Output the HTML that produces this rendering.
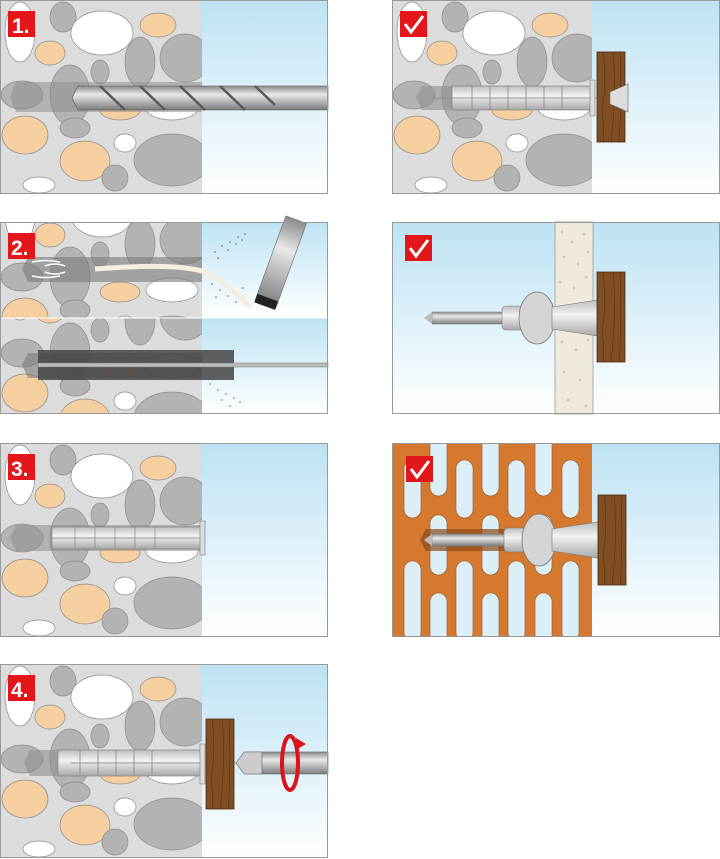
<!DOCTYPE html>
<html><head><meta charset="utf-8"><style>
html,body{margin:0;padding:0;background:#fff;}
svg{display:block}
</style></head><body>
<svg width="720" height="859" viewBox="0 0 720 859" xmlns="http://www.w3.org/2000/svg">
<defs>
<linearGradient id="sky" x1="0" y1="0" x2="0" y2="1">
<stop offset="0" stop-color="#bde2f3"/><stop offset="1" stop-color="#ffffff"/>
</linearGradient>
<linearGradient id="metal" x1="0" y1="0" x2="0" y2="1">
<stop offset="0" stop-color="#8a8a8a"/><stop offset="0.35" stop-color="#e8e8e8"/><stop offset="1" stop-color="#7c7c7c"/>
</linearGradient>
<linearGradient id="plug" x1="0" y1="0" x2="0" y2="1">
<stop offset="0" stop-color="#bdbdbd"/><stop offset="0.4" stop-color="#f2f2f2"/><stop offset="1" stop-color="#a8a8a8"/>
</linearGradient>
<clipPath id="r3clip"><rect x="0" y="0" width="328" height="194"/></clipPath>
<g id="stones" stroke="#8c8c8c" stroke-width="0.7">
<rect x="0" y="0" width="202" height="194" fill="#dcdcdc" stroke="none"/>
<ellipse cx="20" cy="32" rx="15" ry="30" fill="#fff"/>
<ellipse cx="63" cy="17" rx="13" ry="15" fill="#b3b3b3"/>
<ellipse cx="102" cy="33" rx="31" ry="22" fill="#fff"/>
<ellipse cx="158" cy="25" rx="18" ry="12" fill="#f5cfa0"/>
<ellipse cx="50" cy="53" rx="15" ry="12" fill="#f5cfa0"/>
<ellipse cx="140" cy="62" rx="15" ry="25" fill="#b3b3b3"/>
<ellipse cx="185" cy="58" rx="25" ry="24" fill="#b3b3b3"/>
<ellipse cx="100" cy="72" rx="9" ry="12" fill="#b3b3b3"/>
<ellipse cx="22" cy="95" rx="21" ry="14" fill="#b3b3b3"/>
<ellipse cx="70" cy="95" rx="20" ry="30" fill="#b3b3b3"/>
<ellipse cx="120" cy="110" rx="20" ry="10" fill="#f5cfa0"/>
<ellipse cx="172" cy="108" rx="26" ry="12" fill="#fff"/>
<ellipse cx="25" cy="135" rx="23" ry="19" fill="#f5cfa0"/>
<ellipse cx="75" cy="128" rx="15" ry="10" fill="#b3b3b3"/>
<ellipse cx="85" cy="161" rx="25" ry="20" fill="#f5cfa0"/>
<ellipse cx="125" cy="143" rx="11" ry="9" fill="#fff"/>
<ellipse cx="172" cy="160" rx="38" ry="26" fill="#b3b3b3"/>
<ellipse cx="115" cy="178" rx="13" ry="13" fill="#b3b3b3"/>
<ellipse cx="39" cy="185" rx="16" ry="8" fill="#fff"/>
</g>
<g id="wood">
<rect x="0" y="0" width="28" height="90" fill="#7f4e22" stroke="#4a2a10" stroke-width="0.8"/>
<path d="M6 0 Q10 30 5 60 Q8 80 6 90 M16 0 Q20 40 14 90 M23 0 Q25 50 22 90" stroke="#5a3412" stroke-width="0.6" fill="none"/>
</g>
<g id="badge"><rect x="0" y="0" width="27" height="26" fill="#e3161b"/></g>
<g id="check"><rect x="0" y="0" width="27" height="26" fill="#e3161b"/><path d="M5 13 L11 21 L23 5" stroke="#fff" stroke-width="3" fill="none"/></g>
</defs>

<!-- Panel 1 -->
<g transform="translate(0,0)">
<use href="#stones"/>
<rect x="202" y="0" width="126" height="194" fill="url(#sky)"/>
<polygon points="16,82 202,82 202,112 16,112 10,97" fill="#8e8e8e" opacity="0.55"/>
<polygon points="78,86 328,86 328,110 78,110 72,98" fill="url(#metal)" stroke="#555" stroke-width="0.6"/>
<path d="M100 86 L125 110 M140 86 L165 110 M180 86 L205 110 M220 86 L245 110 M255 86 L275 105" stroke="#5a5a5a" stroke-width="2.5" fill="none"/>
<use href="#badge" transform="translate(8,11)"/>
<text x="12" y="33" font-family="Liberation Sans,sans-serif" font-weight="bold" font-size="21" fill="#fff">1.</text>
<rect x="0.5" y="0.5" width="327" height="193" fill="none" stroke="#999"/>
</g>

<!-- Panel 2 -->
<g transform="translate(0,222)">
<svg x="0" y="0" width="202" height="96" viewBox="0 40 202 96"><use href="#stones"/></svg>
<svg x="0" y="96" width="202" height="96" viewBox="0 60 202 96"><use href="#stones"/></svg>
<rect x="202" y="0" width="126" height="96" fill="url(#sky)"/>
<rect x="202" y="96" width="126" height="96" fill="url(#sky)"/>
<line x1="0" y1="96" x2="328" y2="96" stroke="#fff" stroke-width="1"/>
<polygon points="28,35 202,35 202,60 28,60 22,47" fill="#7a7a7a" opacity="0.6"/>
<path d="M95 47 Q185 40 210 52 Q235 68 250 85" stroke="#f3eee0" stroke-width="5" fill="none"/>
<path d="M32 40 Q45 37 60 40 M32 54 Q45 57 60 54 M45 44 Q55 40 65 44 M45 50 Q55 54 65 50" stroke="#fff" stroke-width="1.5" fill="none"/>
<g transform="rotate(20 280 45)"><rect x="268" y="-5" width="22" height="90" fill="url(#metal)" stroke="#666" stroke-width="0.6"/><rect x="268" y="78" width="22" height="9" fill="#222"/></g>
<g fill="#777" opacity="0.7">
<circle cx="215" cy="30" r="1"/><circle cx="222" cy="24" r="1"/><circle cx="230" cy="20" r="1"/><circle cx="238" cy="15" r="1"/><circle cx="245" cy="12" r="1"/><circle cx="218" cy="36" r="1"/><circle cx="228" cy="28" r="1"/><circle cx="236" cy="22" r="1"/><circle cx="242" cy="18" r="1"/><circle cx="212" cy="62" r="1"/><circle cx="220" cy="68" r="1"/><circle cx="228" cy="74" r="1"/><circle cx="236" cy="80" r="1"/><circle cx="243" cy="66" r="1"/><circle cx="216" cy="75" r="1"/>
</g>
<polygon points="28,131 202,131 202,156 28,156 22,143" fill="#7a7a7a" opacity="0.6"/>
<rect x="38" y="128" width="196" height="13" fill="#444" opacity="0.85"/>
<rect x="38" y="145" width="196" height="13" fill="#444" opacity="0.85"/>
<rect x="38" y="141" width="290" height="4" fill="#bbb" stroke="#777" stroke-width="0.5"/>
<g fill="#888" opacity="0.7"><circle cx="210" cy="162" r="1"/><circle cx="218" cy="168" r="1"/><circle cx="226" cy="172" r="1"/><circle cx="234" cy="176" r="1"/><circle cx="240" cy="180" r="1"/><circle cx="222" cy="178" r="1"/><circle cx="230" cy="184" r="1"/></g>
<use href="#badge" transform="translate(8,11)"/>
<text x="11" y="33" font-family="Liberation Sans,sans-serif" font-weight="bold" font-size="21" fill="#fff">2.</text>
<rect x="0.5" y="0.5" width="327" height="191" fill="none" stroke="#999"/>
</g>

<!-- Panel 3 -->
<g transform="translate(0,443)">
<use href="#stones"/>
<rect x="202" y="0" width="126" height="194" fill="url(#sky)"/>
<polygon points="16,82 202,82 202,108 16,108 10,95" fill="#8e8e8e" opacity="0.55"/>
<rect x="52" y="84" width="150" height="22" fill="url(#plug)" stroke="#777" stroke-width="0.6"/>
<path d="M75 84 V106 M95 84 V106 M115 84 V106 M135 84 V106 M155 84 V106 M52 95 H200" stroke="#888" stroke-width="0.7"/>
<rect x="200" y="78" width="5" height="34" fill="#ddd" stroke="#777" stroke-width="0.6"/>
<use href="#badge" transform="translate(8,11)"/>
<text x="11" y="33" font-family="Liberation Sans,sans-serif" font-weight="bold" font-size="21" fill="#fff">3.</text>
<rect x="0.5" y="0.5" width="327" height="193" fill="none" stroke="#999"/>
</g>

<!-- Panel 4 -->
<g transform="translate(0,664)">
<use href="#stones"/>
<rect x="202" y="0" width="126" height="194" fill="url(#sky)"/>
<polygon points="30,86 202,86 202,112 30,112 24,99" fill="#8e8e8e" opacity="0.6"/>
<rect x="58" y="86" width="144" height="26" fill="url(#plug)" stroke="#777" stroke-width="0.6"/>
<path d="M80 86 V112 M98 86 V112 M116 86 V112 M134 86 V112 M152 86 V112 M70 99 H240" stroke="#888" stroke-width="0.8"/>
<rect x="200" y="80" width="5" height="40" fill="#ddd" stroke="#777" stroke-width="0.6"/>
<use href="#wood" transform="translate(206,55)"/>
<rect x="246" y="88" width="82" height="22" fill="url(#metal)" stroke="#666" stroke-width="0.6"/>
<polygon points="244,88 262,88 262,110 244,110 236,99" fill="#ccc" stroke="#666" stroke-width="0.6"/>
<ellipse cx="290" cy="99" rx="8" ry="27" fill="none" stroke="#d8141c" stroke-width="4"/>
<polygon points="296,74 306,80 296,86" fill="#d8141c"/>
<use href="#badge" transform="translate(8,11)"/>
<text x="11" y="33" font-family="Liberation Sans,sans-serif" font-weight="bold" font-size="21" fill="#fff">4.</text>
<rect x="0.5" y="0.5" width="327" height="193" fill="none" stroke="#999"/>
</g>

<!-- R1 -->
<g transform="translate(392,0)">
<use href="#stones"/>
<rect x="200" y="0" width="128" height="194" fill="url(#sky)"/>
<polygon points="30,86 200,86 200,110 30,110 24,98" fill="#8e8e8e" opacity="0.6"/>
<rect x="60" y="86" width="140" height="24" fill="url(#plug)" stroke="#777" stroke-width="0.6"/>
<path d="M80 86 V110 M98 86 V110 M116 86 V110 M134 86 V110 M152 86 V110 M170 86 V110 M40 98 H235" stroke="#888" stroke-width="0.8"/>
<rect x="198" y="80" width="5" height="36" fill="#ddd" stroke="#777" stroke-width="0.6"/>
<use href="#wood" transform="translate(205,52)"/>
<polygon points="218,92 236,84 236,112 218,104" fill="#ddd" stroke="#666" stroke-width="0.6"/>
<use href="#check" transform="translate(8,11)"/>
<rect x="0.5" y="0.5" width="327" height="193" fill="none" stroke="#999"/>
</g>

<!-- R2 -->
<g transform="translate(392,222)">
<rect x="0" y="0" width="328" height="192" fill="url(#sky)"/>
<rect x="163" y="0" width="38" height="192" fill="#efeadc" stroke="#999" stroke-width="0.8"/>
<g fill="#cfc8b6">
<circle cx="170" cy="10" r="1.4"/><circle cx="180" cy="20" r="1.4"/><circle cx="192" cy="12" r="1.4"/><circle cx="172" cy="35" r="1.4"/><circle cx="186" cy="42" r="1.4"/><circle cx="196" cy="30" r="1.4"/><circle cx="168" cy="60" r="1.4"/><circle cx="182" cy="66" r="1.4"/><circle cx="194" cy="55" r="1.4"/><circle cx="174" cy="85" r="1.4"/><circle cx="188" cy="92" r="1.4"/><circle cx="170" cy="120" r="1.4"/><circle cx="184" cy="128" r="1.4"/><circle cx="196" cy="118" r="1.4"/><circle cx="172" cy="150" r="1.4"/><circle cx="188" cy="158" r="1.4"/><circle cx="176" cy="178" r="1.4"/><circle cx="194" cy="184" r="1.4"/>
</g>
<rect x="40" y="90" width="75" height="12" fill="url(#metal)" stroke="#777" stroke-width="0.5"/>
<polygon points="40,90 32,96 40,102" fill="#bbb"/>
<rect x="110" y="84" width="22" height="24" rx="4" fill="url(#plug)" stroke="#777" stroke-width="0.6"/>
<ellipse cx="145" cy="96" rx="18" ry="26" fill="#d4d4d4" stroke="#777" stroke-width="0.8"/>
<polygon points="160,85 206,78 206,114 160,107" fill="url(#plug)" stroke="#777" stroke-width="0.6"/>
<use href="#wood" transform="translate(205,50)"/>
<use href="#check" transform="translate(13,13)"/>
<rect x="0.5" y="0.5" width="327" height="191" fill="none" stroke="#999"/>
</g>

<!-- R3 -->
<g transform="translate(392,443)">
<g clip-path="url(#r3clip)">
<rect x="0" y="0" width="328" height="194" fill="url(#sky)"/>
<rect x="0" y="0" width="200" height="194" fill="#d4792f"/>
<g fill="#dceef6" stroke="#9a5520" stroke-width="0.6">
<rect x="12" y="17" width="17" height="58" rx="8.5"/><rect x="12" y="118" width="17" height="80" rx="8.5"/>
<rect x="38" y="-10" width="17" height="63" rx="8.5"/><rect x="38" y="72" width="17" height="60" rx="8.5"/><rect x="38" y="150" width="17" height="55" rx="8.5"/>
<rect x="64" y="17" width="17" height="58" rx="8.5"/><rect x="64" y="118" width="17" height="80" rx="8.5"/>
<rect x="90" y="-10" width="17" height="63" rx="8.5"/><rect x="90" y="72" width="17" height="60" rx="8.5"/><rect x="90" y="150" width="17" height="55" rx="8.5"/>
<rect x="116" y="17" width="17" height="58" rx="8.5"/><rect x="116" y="118" width="17" height="80" rx="8.5"/>
<rect x="143" y="-10" width="17" height="63" rx="8.5"/><rect x="143" y="72" width="17" height="60" rx="8.5"/><rect x="143" y="150" width="17" height="55" rx="8.5"/>
<rect x="170" y="17" width="17" height="58" rx="8.5"/><rect x="170" y="118" width="17" height="80" rx="8.5"/>
</g>
<polygon points="34,86 120,86 120,108 34,108 28,97" fill="#8a4a1a" opacity="0.7"/>
<rect x="40" y="91" width="75" height="12" fill="url(#metal)" stroke="#777" stroke-width="0.5"/>
<polygon points="40,91 32,97 40,103" fill="#bbb"/>
<rect x="112" y="85" width="22" height="24" rx="4" fill="url(#plug)" stroke="#777" stroke-width="0.6"/>
<ellipse cx="147" cy="97" rx="17" ry="26" fill="#d4d4d4" stroke="#777" stroke-width="0.8"/>
<polygon points="160,86 206,79 206,115 160,108" fill="url(#plug)" stroke="#777" stroke-width="0.6"/>
<use href="#wood" transform="translate(206,52)"/>
<use href="#check" transform="translate(14,13)"/>
</g>
<rect x="0.5" y="0.5" width="327" height="193" fill="none" stroke="#999"/>
</g>
</svg>
</body></html>
